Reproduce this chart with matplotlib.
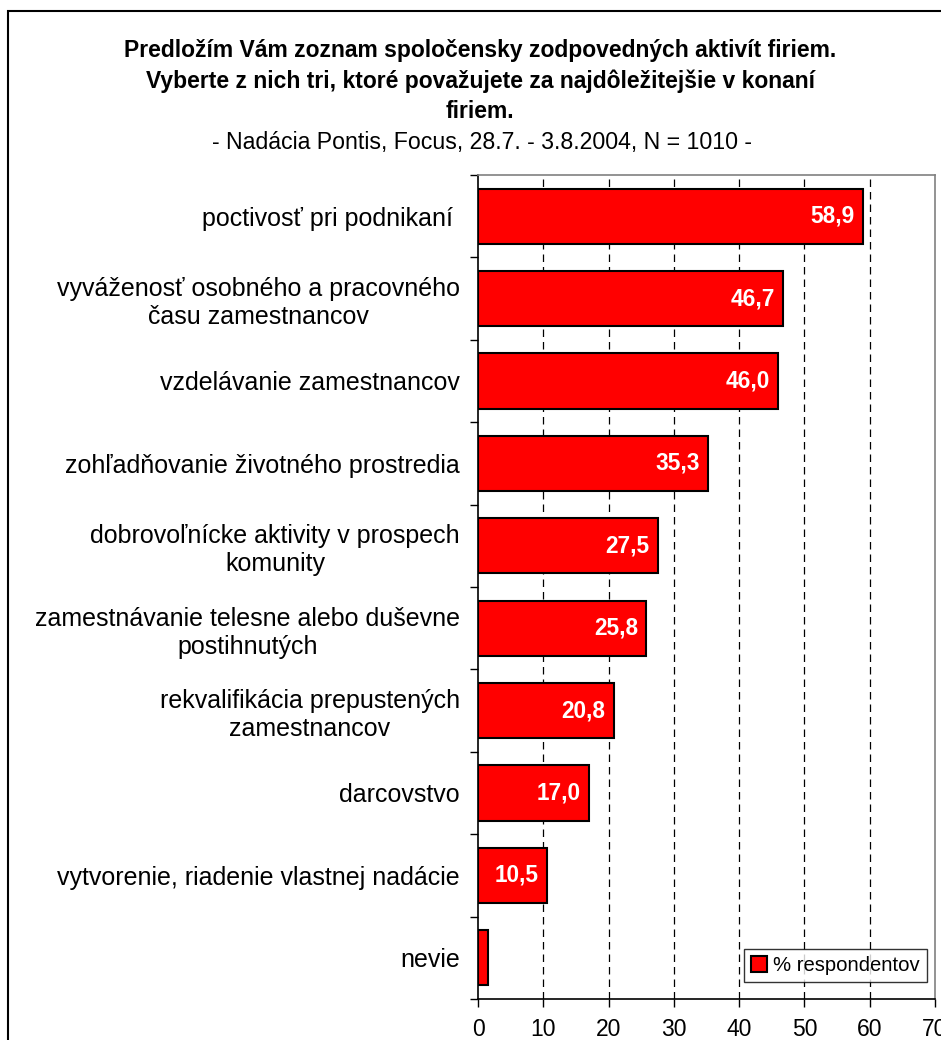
import matplotlib
matplotlib.use("Agg")
import matplotlib.pyplot as plt
from matplotlib.patches import Rectangle
from matplotlib.ticker import FixedLocator

plt.rcParams['font.family'] = ['Liberation Sans', 'DejaVu Sans']

categories = [
    "poctivosť pri podnikaní ",
    "vyváženosť osobného a pracovného\nčasu zamestnancov",
    "vzdelávanie zamestnancov",
    "zohľadňovanie životného prostredia",
    "dobrovoľnícke aktivity v prospech\nkomunity",
    "zamestnávanie telesne alebo duševne\npostihnutých",
    "rekvalifikácia prepustených\nzamestnancov",
    "darcovstvo",
    "vytvorenie, riadenie vlastnej nadácie",
    "nevie",
]
values = [58.9, 46.7, 46.0, 35.3, 27.5, 25.8, 20.8, 17.0, 10.5, 1.5]
value_labels = ["58,9", "46,7", "46,0", "35,3", "27,5", "25,8", "20,8", "17,0", "10,5", ""]
xticks = [0, 10, 20, 30, 40, 50, 60, 70]
series_name = "% respondentov"
title = ("Predložím Vám zoznam spoločensky zodpovedných aktivít firiem.\n"
         "Vyberte z nich tri, ktoré považujete za najdôležitejšie v konaní\n"
         "firiem.")
subtitle = "- Nadácia Pontis, Focus, 28.7. - 3.8.2004, N = 1010 -"

W, H = 941, 1040
fig = plt.figure(figsize=(W / 100, H / 100), dpi=100)

# outer chart frame (cropped at right and bottom)
fig.patches.append(Rectangle((8 / W, -0.05), 1.2, 1 - 11 / H + 0.05,
                             transform=fig.transFigure, fill=False,
                             edgecolor='black', linewidth=1.5))

ax = fig.add_axes([478 / W, 1 - 999 / H, (935 - 478) / W, (999 - 175) / H])

ypos = list(range(len(categories)))
ax.barh(ypos, values, height=0.67, color='#FF0000', edgecolor='black',
        linewidth=1.5, label=series_name, zorder=3)
ax.set_xlim(0, 70)
ax.set_ylim(len(categories) - 0.5, -0.5)

for y, v, lab in zip(ypos, values, value_labels):
    if lab:
        ax.annotate(lab, (v, y), xytext=(-6, 0), textcoords='offset points',
                    ha='right', va='center', color='white', fontweight='bold',
                    fontsize=16.3, zorder=4)

ax.set_yticks(ypos)
ax.set_yticklabels(categories, fontsize=18, multialignment='center',
                   linespacing=1.22)
ax.tick_params(axis='y', which='major', length=0, pad=13)
ax.yaxis.set_minor_locator(FixedLocator([i + 0.5 for i in range(len(categories) - 1)] + [-0.5, len(categories) - 0.5]))
ax.tick_params(axis='y', which='minor', length=6, width=1, direction='out')

ax.set_xticks(xticks)
ax.set_xticklabels([str(t) for t in xticks], fontsize=16.5)
ax.tick_params(axis='x', length=6, width=1, direction='out', pad=8)

for t in xticks[1:-1]:
    ax.axvline(t, color='black', linestyle=(0, (6, 4)), linewidth=0.9, zorder=1)

for s in ['left', 'bottom']:
    ax.spines[s].set_color('black')
    ax.spines[s].set_linewidth(1.2)
for s in ['top', 'right']:
    ax.spines[s].set_color('#808080')
    ax.spines[s].set_linewidth(1.2)

leg = ax.legend(loc='lower right', bbox_to_anchor=(927 / W, 1 - 982 / H),
                bbox_transform=fig.transFigure, fontsize=14.6, frameon=True,
                fancybox=False, edgecolor='black', handlelength=0.8,
                handleheight=0.8, handletextpad=0.3, borderpad=0.35,
                borderaxespad=0)
leg.get_frame().set_linewidth(1.0)

fig.text(480 / W, 1 - 81 / H, title, ha='center', va='center',
         fontsize=16.5, fontweight='bold', linespacing=1.42)
fig.text(482 / W, 1 - 142 / H, subtitle, ha='center', va='center', fontsize=16.7)

fig.savefig("out.png", dpi=100)
